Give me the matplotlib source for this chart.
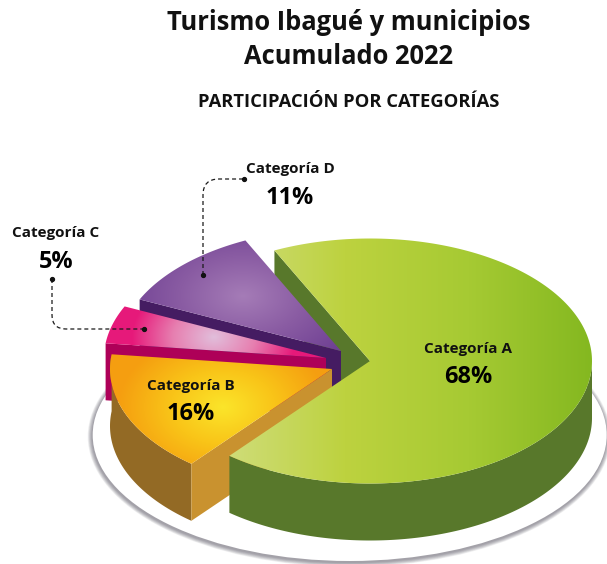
import numpy as np
import matplotlib
matplotlib.use("Agg")
import matplotlib.pyplot as plt
from matplotlib.patches import Polygon, Ellipse, PathPatch
from matplotlib.path import Path
from matplotlib.colors import to_rgb

title = "Turismo Ibagué y municipios\nAcumulado 2022"
subtitle = "PARTICIPACIÓN POR CATEGORÍAS"
categories = ["Categoría D", "Categoría C", "Categoría B", "Categoría A"]
shares = [11, 5, 16, 68]

plt.rcParams["font.family"] = ["Open Sans", "DejaVu Sans"]

# pie shape in pixels
RX, RY, DEPTH = 222, 122.5, 57
START = 115.5
tips = {"Categoría A": (370, 361), "Categoría B": (332, 369),
        "Categoría C": (326, 358), "Categoría D": (341, 351)}

fig = plt.figure(figsize=(6.07, 5.64), dpi=100)
ax = fig.add_axes([0, 0, 1, 1])

# angles of each slice, going round from the D/A border
bounds = {}
a = START
for cat, s in zip(categories, shares):
    bounds[cat] = (a, a + s * 3.6)
    a += s * 3.6


def rim(tip, t):
    t = np.radians(t)
    return tip[0] + RX * np.cos(t), tip[1] - RY * np.sin(t)


def top_poly(cat):
    tip = tips[cat]
    x, y = rim(tip, np.linspace(bounds[cat][0], bounds[cat][1], 200))
    return np.vstack([[tip], np.column_stack([x, y])])


def arc_wall(cat, t_end=None):
    # only the front of the rim has a wall you can see
    t1 = bounds[cat][1] if t_end is None else t_end
    x, y = rim(tips[cat], np.linspace(bounds[cat][0], t1, 200))
    return np.vstack([np.column_stack([x, y]), np.column_stack([x, y + DEPTH])[::-1]])


def edge_wall(cat, t):
    tip = tips[cat]
    x, y = rim(tip, t)
    return np.array([tip, (x, y), (x, y + DEPTH), (tip[0], tip[1] + DEPTH)])


yy, xx = np.mgrid[0:564, 0:607] + 0.5


def paint(cat, r, stops, z):
    # r goes 0..1, stops are colours spread evenly along it
    r = np.clip(r, 0, 1)
    pos = np.linspace(0, 1, len(stops))
    rgb = np.array([to_rgb(c) for c in stops])
    img = np.dstack([np.interp(r, pos, rgb[:, i]) for i in range(3)])
    im = ax.imshow(img, extent=(0, 607, 564, 0), zorder=z, interpolation="bilinear")
    patch = Polygon(top_poly(cat), closed=True, fc="none", ec="none", zorder=z,
                    transform=ax.transData)
    ax.add_patch(patch)
    im.set_clip_path(patch)


# plate and its soft shadow
cx, cy, prx, pry = 349.7, 435, 257, 126
for i in range(10, 0, -1):
    ax.add_patch(Ellipse((cx - 0.5, cy + 1.5), 2 * (prx + i * 0.45), 2 * (pry + i * 0.45),
                         fc="#3a3848", ec="none", alpha=0.06, zorder=1))
ax.add_patch(Ellipse((cx, cy), 2 * prx, 2 * pry, fc="white", ec="none", zorder=2))

# inner wall of A sits behind the other slices
ax.add_patch(Polygon(edge_wall("Categoría A", bounds["Categoría A"][1]), fc="#58782b", ec="none", zorder=3))

# D
ax.add_patch(Polygon(edge_wall("Categoría D", bounds["Categoría D"][1]), fc="#451c62", ec="none", zorder=4))
paint("Categoría D", np.hypot((xx - 243) / 125, (yy - 296) / 80),
      ["#a57cb7", "#8a5ca3", "#6f4093"], 5)

# C
ax.add_patch(Polygon(edge_wall("Categoría C", bounds["Categoría C"][1]), fc="#ae0058", ec="none", zorder=6))
paint("Categoría C", np.hypot((xx - 214) / 82, (yy - 337) / 60),
      ["#e1bedb", "#e77fb0", "#e6197a"], 7)

# B
ax.add_patch(Polygon(arc_wall("Categoría B"), fc="#936a25", ec="none", zorder=8))
ax.add_patch(Polygon(edge_wall("Categoría B", bounds["Categoría B"][1]), fc="#c9922f", ec="none", zorder=9))
paint("Categoría B", np.hypot((xx - 223) / 105, (yy - 407) / 75),
      ["#fbe52a", "#f9c418", "#f59e10"], 10)

# A in front of everything
ax.add_patch(Polygon(arc_wall("Categoría A", t_end=360), fc="#58782b", ec="none", zorder=11))
paint("Categoría A", (xx - 222) / (592 - 222),
      ["#d0dd7c", "#bdd23f", "#a6ca33", "#84b820"], 12)

# leader lines
leaders = [
    ([(203, 275), (203, 195), (203, 179), (219, 179), (244, 179)],
     [Path.MOVETO, Path.LINETO, Path.CURVE3, Path.CURVE3, Path.LINETO]),
    ([(52, 279), (52, 315), (52, 329), (66, 329), (144, 329)],
     [Path.MOVETO, Path.LINETO, Path.CURVE3, Path.CURVE3, Path.LINETO]),
]
for pts, codes in leaders:
    ax.add_patch(PathPatch(Path(pts, codes), fc="none", ec="#1a1a1a", lw=0.9,
                           ls=(0, (3.2, 2.4)), zorder=13))
    ax.plot([pts[0][0], pts[-1][0]], [pts[0][1], pts[-1][1]], "o", ms=2.8, color="#111111",
            ls="none", zorder=14)

# text
ax.text(349, 39.5, title, ha="center", va="center", fontsize=18.4, fontweight="bold",
        linespacing=1.33, color="#111111", zorder=15)
ax.text(349, 102, subtitle, ha="center", va="center", fontsize=13.2, fontweight="bold",
        color="#111111", zorder=15)

label_pos = {"Categoría A": (468, 349, 377), "Categoría B": (191, 386, 414),
             "Categoría C": (56, 233, 262), "Categoría D": (290, 169, 198)}
for cat, s in zip(categories, shares):
    x, y1, y2 = label_pos[cat]
    ax.text(x, y1, cat, ha="center", va="center", fontsize=11, fontweight="bold",
            color="#111111", zorder=15)
    ax.text(x, y2, f"{s}%", ha="center", va="center", fontsize=16.9, fontweight="bold",
            color="#000000", zorder=15)

ax.set_xlim(0, 607)
ax.set_ylim(564, 0)
ax.set_aspect("auto")
ax.axis("off")
fig.savefig("out.png", dpi=100, facecolor="white")
